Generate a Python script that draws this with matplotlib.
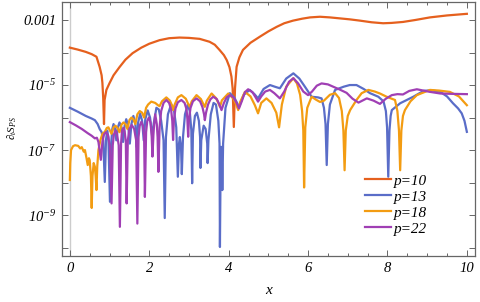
import numpy as np
import matplotlib
matplotlib.use("Agg")
import matplotlib.pyplot as plt
from matplotlib.ticker import FixedLocator, NullFormatter

plt.rcParams['font.family'] = ['Liberation Serif', 'DejaVu Serif']
plt.rcParams['font.style'] = 'italic'
plt.rcParams['mathtext.fontset'] = 'custom'
plt.rcParams['mathtext.rm'] = 'Liberation Serif:italic'
plt.rcParams['mathtext.it'] = 'Liberation Serif:italic'
plt.rcParams['mathtext.bf'] = 'Liberation Serif:italic:bold'

# ---- data: x and log10 of the plotted quantity ----
p10_x = [0.00, 0.20, 0.40, 0.55, 0.67, 0.75, 0.80, 0.82, 0.84, 0.86, 0.875, 0.92, 1.00, 1.10, 1.25, 1.40,
         1.58, 1.80, 2.00, 2.26, 2.50, 2.76, 3.00, 3.27, 3.52, 3.65, 3.77, 3.88, 3.95, 4.02, 4.07, 4.10,
         4.13, 4.16, 4.20, 4.27, 4.36, 4.55, 4.79, 5.00, 5.21, 5.40, 5.62, 5.85, 6.05, 6.30, 6.55, 6.80,
         7.05, 7.31, 7.60, 7.89, 8.10, 8.39, 8.70, 9.07, 9.50, 10.0]
p10_log = [-3.85, -3.91, -3.98, -4.05, -4.13, -4.44, -4.70, -4.94, -5.40, -6.20, -5.46, -5.15, -4.94, -4.70, -4.45, -4.22,
           -4.02, -3.85, -3.73, -3.62, -3.56, -3.54, -3.55, -3.58, -3.67, -3.76, -3.92, -4.08, -4.23, -4.45, -4.74, -5.10,
           -6.29, -5.10, -4.44, -4.15, -3.92, -3.70, -3.51, -3.35, -3.21, -3.10, -3.02, -2.96, -2.92, -2.90, -2.92, -2.95,
           -2.98, -3.02, -3.07, -3.10, -3.09, -3.06, -3.00, -2.92, -2.86, -2.81]

p13_x = [0.00, 0.20, 0.40, 0.55, 0.63, 0.70, 0.75, 0.80, 0.84, 0.88, 0.91, 0.94, 0.97, 1.01, 1.04, 1.07,
         1.10, 1.14, 1.17, 1.21, 1.25, 1.30, 1.34, 1.38, 1.42, 1.47, 1.51, 1.55, 1.60, 1.65, 1.68, 1.72,
         1.77, 1.82, 1.86, 1.90, 1.96, 2.02, 2.06, 2.08, 2.11, 2.18, 2.24, 2.30, 2.36, 2.39, 2.42, 2.47,
         2.55, 2.62, 2.68, 2.72, 2.75, 2.77, 2.80, 2.82, 2.85, 2.90, 2.97, 3.02, 3.06, 3.08, 3.10, 3.15,
         3.20, 3.25, 3.28, 3.29, 3.31, 3.37, 3.42, 3.46, 3.47, 3.49, 3.55, 3.62, 3.68, 3.74, 3.77, 3.78,
         3.80, 3.81, 3.83, 3.84, 3.86, 3.92, 4.03, 4.15, 4.26, 4.38, 4.53, 4.65, 4.74, 4.88, 5.04, 5.16,
         5.29, 5.45, 5.63, 5.78, 5.92, 6.09, 6.25, 6.34, 6.40, 6.44, 6.47, 6.50, 6.55, 6.68, 6.90, 7.05,
         7.22, 7.40, 7.56, 7.77, 7.90, 7.96, 7.99, 8.02, 8.05, 8.08, 8.11, 8.32, 8.65, 8.91, 9.10, 9.33,
         9.50, 9.65, 9.78, 9.87, 9.94, 10.0]
p13_log = [-5.70, -5.82, -5.95, -6.03, -6.08, -6.20, -6.35, -6.45, -6.70, -7.98, -6.70, -6.40, -6.60, -8.59, -6.80, -6.35,
           -6.20, -6.35, -6.70, -6.30, -6.15, -6.30, -6.75, -6.25, -6.05, -6.25, -6.80, -6.20, -5.95, -6.20, -6.90, -6.15,
           -5.88, -6.10, -6.70, -6.05, -5.78, -6.00, -6.40, -6.74, -6.20, -5.70, -5.75, -6.10, -6.70, -9.09, -6.60, -5.90,
           -5.60, -5.75, -6.30, -7.82, -6.80, -6.60, -6.90, -7.74, -6.60, -5.90, -5.60, -5.80, -6.40, -8.02, -6.50, -5.95,
           -5.85, -6.10, -6.60, -7.55, -6.70, -6.25, -6.35, -6.80, -7.40, -6.70, -5.90, -5.55, -5.60, -6.10, -6.80, -9.98,
           -7.00, -6.90, -7.40, -8.23, -6.80, -5.70, -5.25, -5.40, -5.67, -5.30, -5.15, -5.28, -5.41, -5.12, -5.00, -5.05,
           -5.10, -4.80, -4.64, -4.80, -5.05, -5.36, -5.38, -5.41, -5.70, -6.20, -7.46, -6.20, -5.60, -5.15, -5.05, -5.00,
           -5.00, -5.12, -5.25, -5.36, -5.50, -5.80, -6.30, -7.82, -6.40, -5.95, -5.77, -5.56, -5.36, -5.18, -5.16, -5.21,
           -5.35, -5.56, -5.72, -5.87, -6.10, -6.44]

p18_x = [0.00, 0.01, 0.03, 0.08, 0.13, 0.21, 0.26, 0.30, 0.35, 0.38, 0.42, 0.45, 0.48, 0.50, 0.53, 0.55,
         0.57, 0.60, 0.63, 0.65, 0.67, 0.69, 0.72, 0.77, 0.82, 0.88, 0.93, 0.97, 1.01, 1.05, 1.10, 1.15,
         1.20, 1.25, 1.30, 1.35, 1.40, 1.45, 1.50, 1.55, 1.60, 1.65, 1.70, 1.76, 1.82, 1.87, 1.92, 1.97,
         2.05, 2.15, 2.22, 2.26, 2.32, 2.43, 2.52, 2.57, 2.60, 2.64, 2.72, 2.81, 2.92, 2.98, 3.02, 3.07,
         3.19, 3.30, 3.36, 3.40, 3.45, 3.57, 3.68, 3.74, 3.78, 3.83, 3.99, 4.12, 4.19, 4.24, 4.29, 4.41,
         4.55, 4.66, 4.74, 4.82, 4.95, 5.08, 5.20, 5.27, 5.34, 5.45, 5.63, 5.72, 5.80, 5.85, 5.88, 5.90,
         5.93, 5.98, 6.09, 6.20, 6.30, 6.40, 6.55, 6.68, 6.78, 6.85, 6.89, 6.92, 6.95, 7.00, 7.06, 7.22,
         7.35, 7.52, 7.68, 7.81, 7.98, 8.19, 8.25, 8.29, 8.32, 8.35, 8.39, 8.44, 8.58, 8.74, 9.07, 9.30,
         9.57, 9.80, 10.0]
p18_log = [-7.92, -7.40, -7.00, -6.88, -6.85, -6.87, -6.95, -6.91, -7.05, -7.00, -7.25, -7.46, -7.25, -7.31, -7.80, -8.78,
           -7.80, -7.40, -7.51, -7.80, -8.23, -7.50, -7.00, -6.69, -6.50, -6.44, -6.32, -6.30, -6.40, -6.50, -6.30, -6.25,
           -6.32, -6.45, -6.22, -6.15, -6.20, -6.35, -6.08, -6.00, -6.05, -6.20, -5.90, -5.80, -5.85, -6.00, -5.70, -5.60,
           -5.51, -5.55, -5.62, -5.65, -5.50, -5.38, -5.48, -5.62, -5.77, -5.60, -5.38, -5.31, -5.42, -5.58, -5.67, -5.50,
           -5.31, -5.43, -5.58, -5.67, -5.48, -5.26, -5.40, -5.55, -5.67, -5.47, -5.26, -5.42, -5.60, -5.77, -5.52, -5.21,
           -5.35, -5.62, -5.87, -5.55, -5.41, -5.55, -5.85, -6.30, -5.60, -5.05, -4.79, -4.95, -5.30, -5.80, -6.40, -8.15,
           -6.30, -5.70, -5.36, -5.45, -5.52, -5.48, -5.30, -5.25, -5.40, -5.80, -6.40, -7.62, -6.40, -5.95, -5.77, -5.46,
           -5.25, -5.15, -5.20, -5.26, -5.36, -5.46, -5.80, -6.40, -7.62, -6.40, -5.95, -5.77, -5.50, -5.31, -5.15, -5.17,
           -5.21, -5.35, -5.62]

p22_x = [0.00, 0.15, 0.30, 0.45, 0.55, 0.63, 0.68, 0.72, 0.78, 0.82, 0.86, 0.91, 0.96, 1.01, 1.05, 1.08,
         1.11, 1.15, 1.19, 1.23, 1.26, 1.29, 1.31, 1.35, 1.38, 1.41, 1.43, 1.46, 1.50, 1.56, 1.62, 1.67,
         1.70, 1.73, 1.76, 1.80, 1.84, 1.87, 1.89, 1.92, 1.95, 1.99, 2.03, 2.06, 2.08, 2.11, 2.15, 2.19,
         2.21, 2.23, 2.26, 2.30, 2.36, 2.43, 2.50, 2.55, 2.58, 2.60, 2.62, 2.66, 2.72, 2.81, 2.89, 2.94,
         2.96, 2.98, 3.00, 3.04, 3.10, 3.19, 3.28, 3.34, 3.38, 3.40, 3.43, 3.48, 3.54, 3.61, 3.70, 3.76,
         3.82, 3.88, 3.95, 4.03, 4.12, 4.20, 4.26, 4.33, 4.41, 4.49, 4.60, 4.68, 4.74, 4.82, 4.92, 5.04,
         5.15, 5.29, 5.40, 5.52, 5.63, 5.75, 5.88, 6.00, 6.10, 6.22, 6.34, 6.50, 6.63, 6.80, 6.97, 7.12,
         7.27, 7.38, 7.48, 7.65, 7.81, 7.96, 8.11, 8.25, 8.39, 8.55, 8.74, 8.90, 9.07, 9.33, 9.60, 10.0]
p22_log = [-6.14, -6.24, -6.35, -6.48, -6.56, -6.64, -6.62, -6.75, -7.30, -6.75, -6.52, -6.45, -6.55, -6.90, -8.64, -6.85,
           -6.52, -6.40, -6.52, -6.85, -9.36, -6.80, -6.45, -6.32, -6.42, -6.75, -8.64, -6.70, -6.35, -6.23, -6.35, -6.70,
           -9.26, -6.60, -6.25, -6.13, -6.25, -6.55, -8.44, -6.45, -6.10, -6.00, -6.15, -6.55, -7.20, -6.40, -5.90, -6.20,
           -6.60, -7.67, -6.30, -5.80, -5.55, -5.46, -5.55, -5.75, -6.10, -6.69, -6.10, -5.72, -5.53, -5.46, -5.55, -5.75,
           -6.05, -6.59, -6.05, -5.70, -5.50, -5.41, -5.50, -5.68, -5.90, -6.08, -5.85, -5.60, -5.44, -5.36, -5.43, -5.58,
           -5.77, -5.55, -5.38, -5.31, -5.38, -5.55, -5.72, -5.50, -5.22, -5.13, -5.22, -5.38, -5.51, -5.35, -5.20, -5.15,
           -5.25, -5.41, -5.20, -4.90, -4.79, -4.95, -5.20, -5.31, -5.20, -5.02, -4.95, -4.98, -5.05, -5.14, -5.24, -5.42,
           -5.54, -5.47, -5.41, -5.48, -5.58, -5.42, -5.31, -5.28, -5.29, -5.18, -5.13, -5.17, -5.21, -5.26, -5.27, -5.28]

series = [("p=10", p10_x, p10_log, "#E5601E"),
          ("p=13", p13_x, p13_log, "#5A6DC8"),
          ("p=18", p18_x, p18_log, "#F39C12"),
          ("p=22", p22_x, p22_log, "#A03FB4")]

x_ticks = [0, 2, 4, 6, 8, 10]
y_major = [1e-3, 1e-5, 1e-7, 1e-9]
y_major_labels = ["0.001", r"$10^{-5}$", r"$10^{-7}$", r"$10^{-9}$"]
y_minor = [1e-4, 1e-6, 1e-8, 1e-10]

fig = plt.figure(figsize=(4.80, 3.02), dpi=100)
ax = fig.add_axes([0.129, 0.152, 0.861, 0.841])

ax.axvline(0, color="#cccccc", lw=1.0, zorder=1)
for name, xs, ls, c in series:
    ax.plot(xs, 10.0 ** np.array(ls), color=c, lw=1.6, label=name, zorder=2,
            solid_joinstyle="round")

ax.set_yscale("log")
ax.set_xlim(-0.2, 10.21)
ax.set_ylim(10 ** -10.26, 10 ** -2.45)

ax.xaxis.set_major_locator(FixedLocator(x_ticks))
ax.xaxis.set_minor_locator(FixedLocator(np.arange(0, 10.01, 0.5)))
ax.set_xticklabels([str(t) for t in x_ticks])
ax.yaxis.set_major_locator(FixedLocator(y_major))
ax.set_yticklabels(y_major_labels)
ax.yaxis.set_minor_locator(FixedLocator(y_minor))
ax.yaxis.set_minor_formatter(NullFormatter())

spine_c = "#666666"
for s in ax.spines.values():
    s.set_color(spine_c)
    s.set_linewidth(0.9)
ax.tick_params(which="both", direction="in", top=True, right=True, color=spine_c,
               labelsize=10.5, width=0.7)
ax.tick_params(which="major", length=4.5, pad=4)
ax.tick_params(which="minor", length=2.5)
ax.tick_params(axis="y", which="minor", length=4)
for lbl in ax.get_xticklabels() + ax.get_yticklabels():
    lbl.set_fontstyle("italic")
    lbl.set_family("Liberation Serif")

ax.set_xlabel("x", fontsize=11, labelpad=7, fontstyle="italic", family="Liberation Serif")
fig.text(0.025, 0.575, r"$\partial_t S_{PS}$", rotation=90, fontsize=8, ha="center", va="center")

leg = ax.legend(loc="lower right", bbox_to_anchor=(0.905, 0.045), frameon=False, fontsize=11,
                handlelength=1.7, handletextpad=0.2, labelspacing=0.15, borderaxespad=0.2)
for t in leg.get_texts():
    t.set_fontstyle("italic")
    t.set_family("Liberation Serif")

fig.savefig("out.png", dpi=100)
